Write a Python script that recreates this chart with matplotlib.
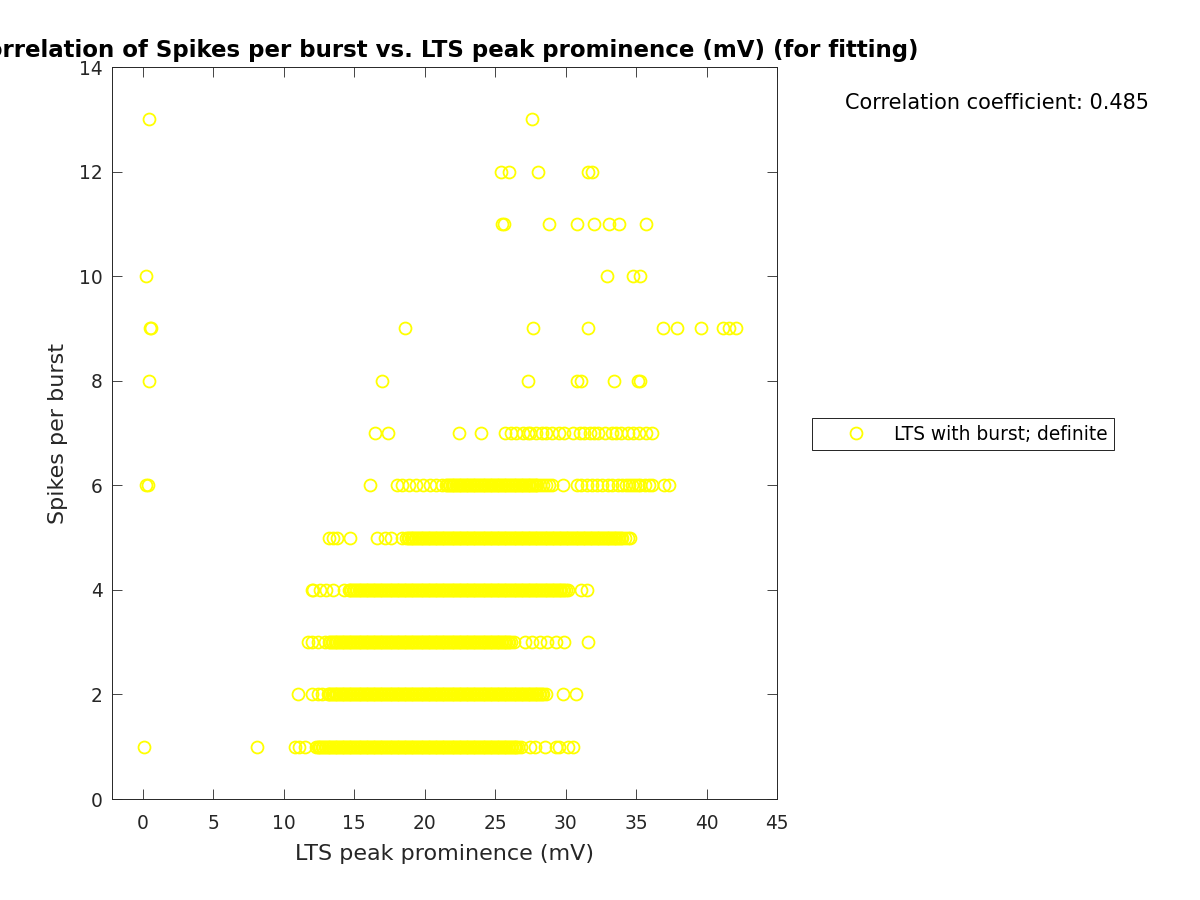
import matplotlib
matplotlib.use("Agg")
import matplotlib.pyplot as plt
import numpy as np

# Spikes per burst levels and the LTS peak prominence values (mV) read per level
levels = [1, 2, 3, 4, 5, 6, 7, 8, 9, 10, 11, 12, 13]

prom_1 = [0.1, 8.1, 10.8, 11.1, 11.5,
          12.3, 12.4, 12.5, 12.6, 12.7, 12.8, 12.9,
          13.0, 13.1, 13.2, 13.3, 13.4, 13.5, 13.6, 13.7, 13.8, 13.9,
          14.0, 14.1, 14.2, 14.3, 14.4, 14.5, 14.6, 14.7, 14.8, 14.9,
          15.0, 15.1, 15.2, 15.3, 15.4, 15.5, 15.6, 15.7, 15.8, 15.9,
          16.0, 16.1, 16.2, 16.3, 16.4, 16.5, 16.6, 16.7, 16.8, 16.9,
          17.0, 17.1, 17.2, 17.3, 17.4, 17.5, 17.6, 17.7, 17.8, 17.9,
          18.0, 18.1, 18.2, 18.3, 18.4, 18.5, 18.6, 18.7, 18.8, 18.9,
          19.0, 19.1, 19.2, 19.3, 19.4, 19.5, 19.6, 19.7, 19.8, 19.9,
          20.0, 20.1, 20.2, 20.3, 20.4, 20.5, 20.6, 20.7, 20.8, 20.9,
          21.0, 21.1, 21.2, 21.3, 21.4, 21.5, 21.6, 21.7, 21.8, 21.9,
          22.0, 22.1, 22.2, 22.3, 22.4, 22.5, 22.6, 22.7, 22.8, 22.9,
          23.0, 23.1, 23.2, 23.3, 23.4, 23.5, 23.6, 23.7, 23.8, 23.9,
          24.0, 24.1, 24.2, 24.3, 24.4, 24.5, 24.6, 24.7, 24.8, 24.9,
          25.0, 25.1, 25.2, 25.3, 25.4, 25.5, 25.6, 25.7, 25.8, 25.9,
          26.0, 26.1, 26.2, 26.3, 26.4, 26.5, 26.6, 26.8,
          27.5, 27.8, 28.5, 29.3, 29.5, 30.2, 30.5]
prom_2 = [11.0, 12.0, 12.4, 12.7,
          13.1, 13.2, 13.3, 13.4, 13.5, 13.6, 13.7, 13.8, 13.9,
          14.0, 14.1, 14.2, 14.3, 14.4, 14.5, 14.6, 14.7, 14.8, 14.9,
          15.0, 15.1, 15.2, 15.3, 15.4, 15.5, 15.6, 15.7, 15.8, 15.9,
          16.0, 16.1, 16.2, 16.3, 16.4, 16.5, 16.6, 16.7, 16.8, 16.9,
          17.0, 17.1, 17.2, 17.3, 17.4, 17.5, 17.6, 17.7, 17.8, 17.9,
          18.0, 18.1, 18.2, 18.3, 18.4, 18.5, 18.6, 18.7, 18.8, 18.9,
          19.0, 19.1, 19.2, 19.3, 19.4, 19.5, 19.6, 19.7, 19.8, 19.9,
          20.0, 20.1, 20.2, 20.3, 20.4, 20.5, 20.6, 20.7, 20.8, 20.9,
          21.0, 21.1, 21.2, 21.3, 21.4, 21.5, 21.6, 21.7, 21.8, 21.9,
          22.0, 22.1, 22.2, 22.3, 22.4, 22.5, 22.6, 22.7, 22.8, 22.9,
          23.0, 23.1, 23.2, 23.3, 23.4, 23.5, 23.6, 23.7, 23.8, 23.9,
          24.0, 24.1, 24.2, 24.3, 24.4, 24.5, 24.6, 24.7, 24.8, 24.9,
          25.0, 25.1, 25.2, 25.3, 25.4, 25.5, 25.6, 25.7, 25.8, 25.9,
          26.0, 26.1, 26.2, 26.3, 26.4, 26.5, 26.6, 26.7, 26.8, 26.9,
          27.0, 27.1, 27.2, 27.3, 27.4, 27.5, 27.6, 27.7, 27.8, 27.9,
          28.0, 28.1, 28.2, 28.3, 28.4, 28.6,
          29.8, 30.7]
prom_3 = [11.7, 12.0, 12.4, 12.9,
          13.2, 13.3, 13.4, 13.5, 13.6, 13.7, 13.8, 13.9,
          14.0, 14.1, 14.2, 14.3, 14.4, 14.5, 14.6, 14.7, 14.8, 14.9,
          15.0, 15.1, 15.2, 15.3, 15.4, 15.5, 15.6, 15.7, 15.8, 15.9,
          16.0, 16.1, 16.2, 16.3, 16.4, 16.5, 16.6, 16.7, 16.8, 16.9,
          17.0, 17.1, 17.2, 17.3, 17.4, 17.5, 17.6, 17.7, 17.8, 17.9,
          18.0, 18.1, 18.2, 18.3, 18.4, 18.5, 18.6, 18.7, 18.8, 18.9,
          19.0, 19.1, 19.2, 19.3, 19.4, 19.5, 19.6, 19.7, 19.8, 19.9,
          20.0, 20.1, 20.2, 20.3, 20.4, 20.5, 20.6, 20.7, 20.8, 20.9,
          21.0, 21.1, 21.2, 21.3, 21.4, 21.5, 21.6, 21.7, 21.8, 21.9,
          22.0, 22.1, 22.2, 22.3, 22.4, 22.5, 22.6, 22.7, 22.8, 22.9,
          23.0, 23.1, 23.2, 23.3, 23.4, 23.5, 23.6, 23.7, 23.8, 23.9,
          24.0, 24.1, 24.2, 24.3, 24.4, 24.5, 24.6, 24.7, 24.8, 24.9,
          25.0, 25.1, 25.2, 25.3, 25.4, 25.5, 25.6, 25.7, 25.8, 25.9,
          26.0, 26.1, 26.3,
          27.1, 27.6, 28.2, 28.7, 29.3, 29.9, 31.6]
prom_4 = [12.0, 12.1, 12.6, 13.0, 13.5, 14.3,
          14.6, 14.7, 14.8, 14.9,
          15.0, 15.1, 15.2, 15.3, 15.4, 15.5, 15.6, 15.7, 15.8, 15.9,
          16.0, 16.1, 16.2, 16.3, 16.4, 16.5, 16.6, 16.7, 16.8, 16.9,
          17.0, 17.1, 17.2, 17.3, 17.4, 17.5, 17.6, 17.7, 17.8, 17.9,
          18.0, 18.1, 18.2, 18.3, 18.4, 18.5, 18.6, 18.7, 18.8, 18.9,
          19.0, 19.1, 19.2, 19.3, 19.4, 19.5, 19.6, 19.7, 19.8, 19.9,
          20.0, 20.1, 20.2, 20.3, 20.4, 20.5, 20.6, 20.7, 20.8, 20.9,
          21.0, 21.1, 21.2, 21.3, 21.4, 21.5, 21.6, 21.7, 21.8, 21.9,
          22.0, 22.1, 22.2, 22.3, 22.4, 22.5, 22.6, 22.7, 22.8, 22.9,
          23.0, 23.1, 23.2, 23.3, 23.4, 23.5, 23.6, 23.7, 23.8, 23.9,
          24.0, 24.1, 24.2, 24.3, 24.4, 24.5, 24.6, 24.7, 24.8, 24.9,
          25.0, 25.1, 25.2, 25.3, 25.4, 25.5, 25.6, 25.7, 25.8, 25.9,
          26.0, 26.1, 26.2, 26.3, 26.4, 26.5, 26.6, 26.7, 26.8, 26.9,
          27.0, 27.1, 27.2, 27.3, 27.4, 27.5, 27.6, 27.7, 27.8, 27.9,
          28.0, 28.1, 28.2, 28.3, 28.4, 28.5, 28.6, 28.7, 28.8, 28.9,
          29.0, 29.1, 29.2, 29.3, 29.4, 29.5, 29.6, 29.7, 29.8, 29.9,
          30.0, 30.2,
          31.1, 31.5]
prom_5 = [13.2, 13.5, 13.8, 14.7, 16.6, 17.2, 17.6, 18.4,
          18.7, 18.8, 18.9,
          19.0, 19.1, 19.2, 19.3, 19.4, 19.5, 19.6, 19.7, 19.8, 19.9,
          20.0, 20.1, 20.2, 20.3, 20.4, 20.5, 20.6, 20.7, 20.8, 20.9,
          21.0, 21.1, 21.2, 21.3, 21.4, 21.5, 21.6, 21.7, 21.8, 21.9,
          22.0, 22.1, 22.2, 22.3, 22.4, 22.5, 22.6, 22.7, 22.8, 22.9,
          23.0, 23.1, 23.2, 23.3, 23.4, 23.5, 23.6, 23.7, 23.8, 23.9,
          24.0, 24.1, 24.2, 24.3, 24.4, 24.5, 24.6, 24.7, 24.8, 24.9,
          25.0, 25.1, 25.2, 25.3, 25.4, 25.5, 25.6, 25.7, 25.8, 25.9,
          26.0, 26.1, 26.2, 26.3, 26.4, 26.5, 26.6, 26.7, 26.8, 26.9,
          27.0, 27.1, 27.2, 27.3, 27.4, 27.5, 27.6, 27.7, 27.8, 27.9,
          28.0, 28.1, 28.2, 28.3, 28.4, 28.5, 28.6, 28.7, 28.8, 28.9,
          29.0, 29.1, 29.2, 29.3, 29.4, 29.5, 29.6, 29.7, 29.8, 29.9,
          30.0, 30.1, 30.2, 30.3, 30.4, 30.5, 30.6, 30.7, 30.8, 30.9,
          31.0, 31.1, 31.2, 31.3, 31.4, 31.5, 31.6, 31.7, 31.8, 31.9,
          32.0, 32.1, 32.2, 32.3, 32.4, 32.5, 32.6, 32.7, 32.8, 32.9,
          33.0, 33.1, 33.2, 33.3, 33.4, 33.5, 33.6, 33.7, 33.8, 33.9,
          34.0, 34.2, 34.4, 34.6]
prom_6 = [0.2, 0.35, 16.1, 18.0, 18.4, 18.9, 19.4, 19.9, 20.4, 20.8, 21.2,
          21.5, 21.6, 21.7, 21.8, 21.9,
          22.0, 22.1, 22.2, 22.3, 22.4, 22.5, 22.6, 22.7, 22.8, 22.9,
          23.0, 23.1, 23.2, 23.3, 23.4, 23.5, 23.6, 23.7, 23.8, 23.9,
          24.0, 24.1, 24.2, 24.3, 24.4, 24.5, 24.6, 24.7, 24.8, 24.9,
          25.0, 25.1, 25.2, 25.3, 25.4, 25.5, 25.6, 25.7, 25.8, 25.9,
          26.0, 26.1, 26.2, 26.3, 26.4, 26.5, 26.6, 26.7, 26.8, 26.9,
          27.0, 27.1, 27.2, 27.3, 27.4, 27.5, 27.6, 27.7, 27.8, 27.9,
          28.0, 28.2, 28.4, 28.6, 28.8, 29.0,
          29.8, 30.8, 31.1, 31.5, 31.9, 32.2, 32.6, 33.0, 33.3, 33.7, 34.0, 34.3,
          34.5, 34.7, 34.9, 35.1, 35.3, 35.6, 35.9, 36.1, 37.0, 37.3]
prom_7 = [16.5, 17.4, 22.4, 24.0, 25.7, 26.1, 26.5, 27.0, 27.3, 27.5, 27.9, 28.3,
          28.6, 29.0, 29.5, 29.9, 30.5, 31.0, 31.3, 31.7, 32.0, 32.3, 32.8, 33.3,
          33.6, 33.9, 34.4, 34.8, 35.2, 35.7, 36.1]
prom_8 = [0.43, 16.95, 27.3, 30.8, 31.1, 33.4, 35.1, 35.3]
prom_9 = [0.5, 0.6, 18.6, 27.7, 31.6, 36.9, 37.9, 39.6, 41.2, 41.6, 42.1]
prom_10 = [0.24, 32.9, 34.8, 35.3]
prom_11 = [25.5, 25.6, 28.8, 30.8, 32.0, 33.05, 33.8, 35.7]
prom_12 = [25.4, 26.0, 28.05, 31.6, 31.9]
prom_13 = [0.40, 27.6]

prominence_by_level = [prom_1, prom_2, prom_3, prom_4, prom_5, prom_6, prom_7,
                       prom_8, prom_9, prom_10, prom_11, prom_12, prom_13]

x_ticks = [0, 5, 10, 15, 20, 25, 30, 35, 40, 45]
y_ticks = [0, 2, 4, 6, 8, 10, 12, 14]
corr_coef = 0.485


def main():
    x = np.concatenate([np.asarray(p, dtype=float) for p in prominence_by_level])
    y = np.concatenate([np.full(len(p), lvl, dtype=float)
                        for p, lvl in zip(prominence_by_level, levels)])

    fig = plt.figure(figsize=(12, 9), dpi=100)
    ax = fig.add_axes([0.0933, 0.1122, 0.5542, 0.8133])

    ax.plot(x, y, linestyle="none", marker="o", markerfacecolor="none",
            markeredgecolor=(1.0, 1.0, 0.0), markersize=8.6, markeredgewidth=1.3,
            label="LTS with burst; definite")

    ax.set_xlim(-2.2, 45)
    ax.set_ylim(0, 14)
    ax.set_xticks(x_ticks)
    ax.set_yticks(y_ticks)

    dark = "#262626"
    ax.tick_params(direction="in", top=True, right=True, length=7, width=0.6,
                   labelsize=13.4, colors=dark)
    ax.tick_params(axis="x", pad=11)
    ax.tick_params(axis="y", pad=6.5)
    for spine in ax.spines.values():
        spine.set_color(dark)
        spine.set_linewidth(0.7)

    ax.set_xlabel("LTS peak prominence (mV)", fontsize=16, color=dark, labelpad=7.5)
    ax.set_ylabel("Spikes per burst", fontsize=16, color=dark, labelpad=8)
    # the title is wider than the figure on the left, as in the original
    ax.set_title("Correlation of Spikes per burst vs. LTS peak prominence (mV) (for fitting)",
                 fontsize=16.5, fontweight="bold", pad=7)

    fig.text(0.704, 0.8856, f"Correlation coefficient: {corr_coef:.3f}",
             fontsize=15, va="center", ha="left", color="black")

    leg = fig.legend(loc="center left", bbox_to_anchor=(812 / 1200, 1 - 434 / 900),
                     fontsize=13.4, frameon=True, fancybox=False, borderaxespad=0,
                     handlelength=4.0, handletextpad=0.05, borderpad=0.35)
    leg.get_frame().set_edgecolor("black")
    leg.get_frame().set_linewidth(0.6)
    leg.get_frame().set_alpha(1)

    fig.savefig("out.png", dpi=100)
    plt.close(fig)


if __name__ == "__main__":
    main()
